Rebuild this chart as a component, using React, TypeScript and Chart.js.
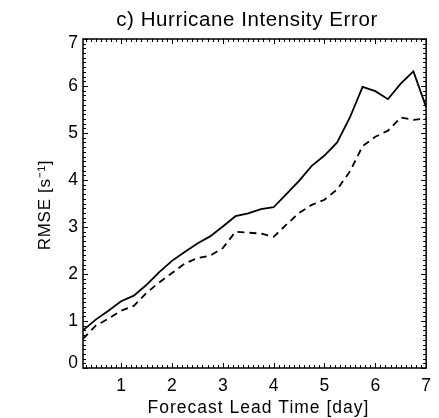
import React, { useEffect, useRef } from "react";
import { Chart, registerables } from "chart.js";

Chart.register(...registerables);

const leadDays = [0.25, 0.5, 0.75, 1, 1.25, 1.5, 1.75, 2, 2.25, 2.5, 2.75, 3, 3.25, 3.5, 3.75, 4, 4.25, 4.5, 4.75, 5, 5.25, 5.5, 5.75, 6, 6.25, 6.5, 6.75, 7];
const rmseSolid = [0.8, 1.03, 1.22, 1.42, 1.54, 1.77, 2.04, 2.28, 2.47, 2.65, 2.8, 3.01, 3.23, 3.29, 3.38, 3.42, 3.7, 3.98, 4.3, 4.52, 4.8, 5.33, 5.98, 5.89, 5.72, 6.05, 6.31, 5.55];
const rmseDashed = [0.62, 0.9, 1.05, 1.22, 1.32, 1.6, 1.82, 2.02, 2.22, 2.34, 2.39, 2.55, 2.9, 2.88, 2.86, 2.79, 3.05, 3.3, 3.47, 3.58, 3.8, 4.18, 4.72, 4.92, 5.05, 5.33, 5.28, 5.31];
const xTickValues = [1, 2, 3, 4, 5, 6, 7];
const yTickValues = [0, 1, 2, 3, 4, 5, 6, 7];
const titleText = "c) Hurricane Intensity Error";
const xTitleText = "Forecast Lead Time [day]";
const yTitleText = "RMSE [s\u207B\u00B9]";

const FONT = '"Liberation Sans", Arial, Helvetica, sans-serif';

const framePlugin = {
  id: "idlFrame",
  beforeDraw(chart: any) {
    // keep the end labels of the y axis inside the frame, as in the reference
    const ys = chart.scales.y;
    if (ys && typeof ys.getLabelItems === "function") {
      const items = ys.getLabelItems(chart.chartArea);
      if (items && items.length) {
        const first = items[0];
        const last = items[items.length - 1];
        if (!first._shifted && first.options && first.options.translation) {
          first.options.translation = [first.options.translation[0], first.options.translation[1] - 5];
          first._shifted = true;
        }
        if (!last._shifted && last.options && last.options.translation) {
          last.options.translation = [last.options.translation[0], last.options.translation[1] + 4];
          last._shifted = true;
        }
      }
    }
  },
  afterDatasetsDraw(chart: any) {
    const { ctx, chartArea } = chart;
    const { left, right, top, bottom } = chartArea;
    const xs = chart.scales.x;
    const ys = chart.scales.y;
    ctx.save();
    ctx.strokeStyle = "#000";
    ctx.lineWidth = 1;
    ctx.beginPath();
    for (let i = 3; i <= 70; i++) {
      const major = i % 10 === 0;
      const len = major ? 5 : 3;
      const px = Math.round(xs.getPixelForValue(i / 10)) + 0.5;
      ctx.moveTo(px, bottom);
      ctx.lineTo(px, bottom - len);
      ctx.moveTo(px, top);
      ctx.lineTo(px, top + len);
    }
    for (let i = 0; i <= 70; i++) {
      const major = i % 10 === 0;
      const len = major ? 5 : 3;
      const py = Math.round(ys.getPixelForValue(i / 10)) + 0.5;
      ctx.moveTo(left, py);
      ctx.lineTo(left + len, py);
      ctx.moveTo(right, py);
      ctx.lineTo(right - len, py);
    }
    ctx.stroke();
    ctx.lineWidth = 1.5;
    ctx.strokeRect(left, top, right - left, bottom - top);
    ctx.restore();
  },
  afterDraw(chart: any) {
    const { ctx } = chart;
    ctx.save();
    ctx.fillStyle = "#000";
    ctx.textAlign = "center";
    ctx.textBaseline = "alphabetic";
    (ctx as any).letterSpacing = "0.6px";
    ctx.font = `20.5px ${FONT}`;
    ctx.fillText(titleText, 247, 26);
    (ctx as any).letterSpacing = "1px";
    ctx.font = `17.5px ${FONT}`;
    ctx.fillText(xTitleText, 258.5, 412.5);
    (ctx as any).letterSpacing = "0.7px";
    ctx.font = `17px ${FONT}`;
    ctx.translate(50, 205);
    ctx.rotate(-Math.PI / 2);
    ctx.fillText(yTitleText, 0, 0);
    ctx.restore();
  },
};

export default function App() {
  const canvasRef = useRef<HTMLCanvasElement | null>(null);

  useEffect(() => {
    const canvas = canvasRef.current;
    if (!canvas) return;
    const chart = new Chart(canvas, {
      type: "line",
      data: {
        datasets: [
          {
            data: leadDays.map((x, i) => ({ x, y: rmseSolid[i] })),
            borderColor: "#000",
            borderWidth: 1.8,
            pointRadius: 0,
            tension: 0,
            fill: false,
          },
          {
            data: leadDays.map((x, i) => ({ x, y: rmseDashed[i] })),
            borderColor: "#000",
            borderWidth: 1.8,
            borderDash: [7, 5],
            pointRadius: 0,
            tension: 0,
            fill: false,
          },
        ],
      },
      options: {
        animation: false,
        responsive: false,
        devicePixelRatio: 1,
        layout: { padding: { top: 39, right: 6, left: 0, bottom: 0 } },
        plugins: {
          legend: { display: false },
          title: { display: false },
          tooltip: { enabled: false },
        },
        scales: {
          x: {
            type: "linear",
            min: 0.25,
            max: 7,
            grid: { display: false, drawTicks: false },
            border: { display: false },
            afterBuildTicks: (s: any) => {
              s.ticks = xTickValues.map((v) => ({ value: v }));
            },
            afterFit: (s: any) => {
              s.height = 50;
            },
            ticks: {
              color: "#000",
              font: { family: FONT, size: 17.5 },
              padding: 8,
              maxRotation: 0,
              autoSkip: false,
            },
          },
          y: {
            type: "linear",
            min: 0,
            max: 7,
            grid: { display: false, drawTicks: false },
            border: { display: false },
            afterBuildTicks: (s: any) => {
              s.ticks = yTickValues.map((v) => ({ value: v }));
            },
            afterFit: (s: any) => {
              s.width = 83;
            },
            ticks: {
              color: "#000",
              font: { family: FONT, size: 17.5 },
              padding: 5,
              autoSkip: false,
            },
          },
        },
      },
      plugins: [framePlugin],
    } as any);
    return () => chart.destroy();
  }, []);

  return (
    <div style={{ position: "absolute", left: 0, top: 0, width: 439, height: 418, background: "#fff" }}>
      <canvas ref={canvasRef} width={439} height={418} style={{ display: "block", width: 439, height: 418 }} />
    </div>
  );
}
